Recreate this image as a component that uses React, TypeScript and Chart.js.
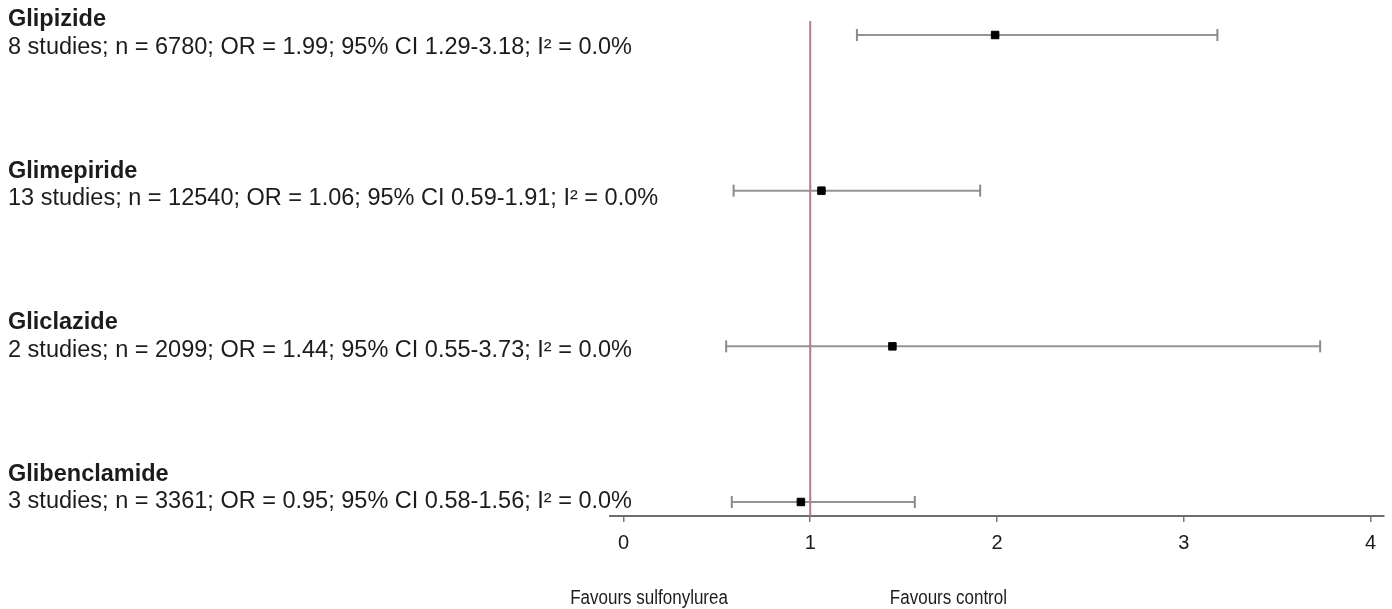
import React, { useEffect, useRef } from 'react';
import { Chart, registerables } from 'chart.js';

Chart.register(...registerables);

// ---- Data ----
const drugs = ['Glipizide', 'Glimepiride', 'Gliclazide', 'Glibenclamide'];
const summaries = [
  '8 studies; n = 6780; OR = 1.99; 95% CI 1.29-3.18; I² = 0.0%',
  '13 studies; n = 12540; OR = 1.06; 95% CI 0.59-1.91; I² = 0.0%',
  '2 studies; n = 2099; OR = 1.44; 95% CI 0.55-3.73; I² = 0.0%',
  '3 studies; n = 3361; OR = 0.95; 95% CI 0.58-1.56; I² = 0.0%',
];
const oddsRatios = [1.99, 1.06, 1.44, 0.95];
const ciLower = [1.25, 0.59, 0.55, 0.58];
const ciUpper = [3.18, 1.91, 3.73, 1.56];
const rowPositions = [4, 3, 2, 1];
const xTicks = [0, 1, 2, 3, 4];
const referenceOR = 1;
const favourLabels = ['Favours sulfonylurea', 'Favours control'];
const favourAnchors = [0.137, 1.74];

const FONT = "'Liberation Sans', Arial, Helvetica, sans-serif";
const TEXT_COLOR = '#1c1c1c';

function drawScaledText(ctx: CanvasRenderingContext2D, text: string, x: number, y: number, font: string, align: CanvasTextAlign, sx: number) {
  ctx.save();
  ctx.font = font;
  ctx.textAlign = align;
  ctx.textBaseline = 'alphabetic';
  ctx.translate(x, y);
  ctx.scale(sx, 1);
  ctx.fillText(text, 0, 0);
  ctx.restore();
}

const labelPlugin = {
  id: 'forestLabels',
  afterDraw(chart: any) {
    const ctx: CanvasRenderingContext2D = chart.ctx;
    const xs = chart.scales.x;
    ctx.save();
    ctx.fillStyle = TEXT_COLOR;
    ctx.font = `23px ${FONT}`;
    const measured = ctx.measureText(summaries[0]).width;
    const sx = measured > 0 ? 624 / measured : 0.95;
    drugs.forEach((name, i) => {
      drawScaledText(ctx, name, 8, 26 + i * 151.5, `bold 23px ${FONT}`, 'left', sx);
      drawScaledText(ctx, summaries[i], 8, 54 + i * 151.3, `23px ${FONT}`, 'left', sx);
    });
    favourLabels.forEach((lab, i) => {
      drawScaledText(ctx, lab, xs.getPixelForValue(favourAnchors[i]), 604, `20px ${FONT}`, 'center', 0.85);
    });
    ctx.restore();
  },
};

export default function App() {
  const canvasRef = useRef<HTMLCanvasElement | null>(null);

  useEffect(() => {
    document.body.style.margin = '0';
    const canvas = canvasRef.current;
    if (!canvas) return;

    const yMin = 0.91;
    const yMax = 4.09;

    const datasets: any[] = [
      {
        label: 'reference',
        data: [
          { x: referenceOR, y: yMin },
          { x: referenceOR, y: yMax },
        ],
        showLine: true,
        borderColor: '#b57897',
        borderWidth: 2,
        pointRadius: 0,
        clip: false,
      },
      {
        label: 'OR',
        data: oddsRatios.map((v, i) => ({ x: v, y: rowPositions[i] })),
        showLine: false,
        pointStyle: 'rect',
        pointRadius: 5.3,
        pointBackgroundColor: '#000',
        pointBorderColor: '#000',
        pointBorderWidth: 1,
      },
      ...drugs.map((d, i) => ({
        label: d + ' CI',
        data: [
          { x: ciLower[i], y: rowPositions[i] },
          { x: ciUpper[i], y: rowPositions[i] },
        ],
        showLine: true,
        borderColor: '#949494',
        borderWidth: 2,
        pointStyle: 'line',
        pointRotation: 90,
        pointRadius: 6,
        pointBorderWidth: 2,
        pointBorderColor: '#8a8a8a',
        clip: false,
      })),
    ];

    const chart = new Chart(canvas, {
      type: 'scatter',
      data: { datasets },
      options: {
        responsive: false,
        animation: false,
        events: [],
        layout: { padding: { left: 610, right: 7, top: 21, bottom: 0 } },
        plugins: {
          legend: { display: false },
          tooltip: { enabled: false },
        },
        scales: {
          x: {
            type: 'linear',
            min: -0.072,
            max: 4.072,
            afterBuildTicks: (s: any) => {
              s.ticks = xTicks.map((v) => ({ value: v }));
            },
            afterFit: (s: any) => {
              s.height = 93;
            },
            grid: {
              drawOnChartArea: false,
              drawTicks: true,
              tickLength: 6,
              color: '#7a7a7a',
              lineWidth: 1.5,
            },
            border: { display: true, color: '#6e6e6e', width: 2 },
            ticks: {
              font: { size: 20, family: FONT },
              color: TEXT_COLOR,
              padding: 9,
              maxRotation: 0,
              callback: (v: any) => String(v),
            },
          },
          y: {
            type: 'linear',
            min: yMin,
            max: yMax,
            display: false,
          },
        },
      },
      plugins: [labelPlugin],
    });

    return () => chart.destroy();
  }, []);

  return (
    <div style={{ width: 1392, height: 609, background: '#fff' }}>
      <canvas ref={canvasRef} width={1392} height={609} style={{ display: 'block' }} />
    </div>
  );
}
